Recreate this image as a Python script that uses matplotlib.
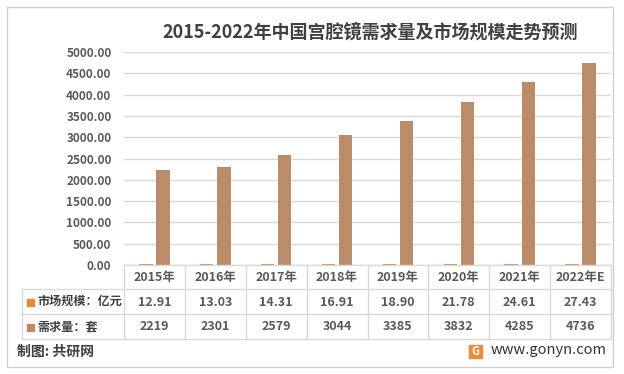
import matplotlib.pyplot as plt
import numpy as np
from matplotlib.patches import Rectangle
from matplotlib.lines import Line2D

plt.rcParams['font.family'] = ['Noto Sans CJK SC', 'DejaVu Sans']

years = ["2015年", "2016年", "2017年", "2018年", "2019年", "2020年", "2021年", "2022年E"]
market = [12.91, 13.03, 14.31, 16.91, 18.90, 21.78, 24.61, 27.43]
demand = [2219, 2301, 2579, 3044, 3385, 3832, 4285, 4736]
yticks = [0, 500, 1000, 1500, 2000, 2500, 3000, 3500, 4000, 4500, 5000]
row_labels = ["市场规模：亿元", "需求量：套"]

W, H = 624, 374
ORANGE = "#E58B3E"
BROWN = "#BB8C6A"
GRID = "#D9D9D9"
TXT = "#595959"


def fx(px):
    return px / W


def fy(py):
    return 1 - py / H


fig = plt.figure(figsize=(6.24, 3.74), dpi=100, facecolor="white")

# plot area in pixels
L, R, T, B = 124, 611, 52, 265
ax = fig.add_axes([fx(L), fy(B), fx(R) - fx(L), fy(T) - fy(B)])
x = np.arange(len(years))
ax.bar(x - 0.14, market, width=0.22, color=ORANGE, zorder=3)
ax.bar(x + 0.14, demand, width=0.22, color=BROWN, zorder=3)
ax.set_xlim(-0.5, len(years) - 0.5)
ax.set_ylim(0, 5000)
ax.set_yticks(yticks)
ax.set_yticklabels([f"{v:.2f}" for v in yticks], fontsize=8.5, color=TXT, fontweight="bold")
ax.tick_params(axis="y", length=0, pad=9)
ax.set_xticks([])
ax.grid(axis="y", color=GRID, linewidth=1, zorder=0)
for s in ax.spines.values():
    s.set_visible(False)

fig.text(fx(370), fy(32), "2015-2022年中国宫腔镜需求量及市场规模走势预测",
         ha="center", va="center", fontsize=13, fontweight="bold", color="#404040")

# data table
rows_y = [265, 289, 314, 339]
col_w = (R - L) / len(years)
line_kw = dict(color=GRID, linewidth=1, transform=fig.transFigure)
fig.add_artist(Line2D([fx(L), fx(R)], [fy(rows_y[0])] * 2, **line_kw))
for yy in rows_y[1:]:
    fig.add_artist(Line2D([fx(22), fx(R)], [fy(yy)] * 2, **line_kw))
fig.add_artist(Line2D([fx(22)] * 2, [fy(rows_y[1]), fy(rows_y[3])], **line_kw))
for i in range(len(years) + 1):
    xx = L + i * col_w
    fig.add_artist(Line2D([fx(xx)] * 2, [fy(rows_y[0]), fy(rows_y[3])], **line_kw))

for i in range(len(years)):
    cx = L + (i + 0.5) * col_w
    fig.text(fx(cx), fy(277), years[i], ha="center", va="center",
             fontsize=9, fontweight="bold", color=TXT)
    fig.text(fx(cx), fy(302), f"{market[i]:.2f}", ha="center", va="center",
             fontsize=9, fontweight="bold", color=TXT)
    fig.text(fx(cx), fy(327), f"{demand[i]}", ha="center", va="center",
             fontsize=9, fontweight="bold", color=TXT)

for j, (lab, c) in enumerate(zip(row_labels, [ORANGE, BROWN])):
    cy = (rows_y[j + 1] + rows_y[j + 2]) / 2
    fig.add_artist(Rectangle((fx(27), fy(cy + 4)), fx(7), fy(0) - fy(7),
                             color=c, transform=fig.transFigure))
    fig.text(fx(37), fy(cy), lab, ha="left", va="center",
             fontsize=8.7, fontweight="bold", color="#404040")

# footer
fig.text(fx(17), fy(352), "制图: 共研网", ha="left", va="center",
         fontsize=10, fontweight="bold", color="#404040")
fig.add_artist(Rectangle((fx(469), fy(358)), fx(13), fy(0) - fy(13),
                         color="#F08A3C", transform=fig.transFigure))
fig.text(fx(475.5), fy(351.5), "G", ha="center", va="center",
         fontsize=8, fontweight="bold", color="white")
fig.text(fx(491), fy(350), "www.gonyn.com", ha="left", va="center",
         fontsize=10.5, color="#333333")

# outer frame
fig.add_artist(Rectangle((fx(7), fy(367)), fx(606), fy(0) - fy(360),
                         fill=False, edgecolor="#D0D0D0", linewidth=1,
                         transform=fig.transFigure))

fig.savefig("out.png", dpi=100, facecolor="white")
